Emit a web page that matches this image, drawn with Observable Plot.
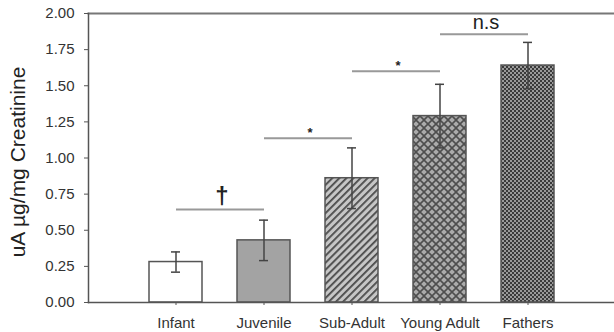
<!DOCTYPE html>
<html>
<head>
<meta charset="utf-8">
<script src="https://cdn.jsdelivr.net/npm/d3@7"></script>
<script src="https://cdn.jsdelivr.net/npm/@observablehq/plot@0.6"></script>
<style>
  html, body { margin: 0; padding: 0; background: #fff; }
  svg { display: block; }
</style>
</head>
<body>
<div id="chart"></div>
<script>
// ---- data ----
const categories = ["Infant", "Juvenile", "Sub-Adult", "Young Adult", "Fathers"];
const means = [0.28, 0.43, 0.86, 1.29, 1.64];
const errors = [0.07, 0.14, 0.21, 0.22, 0.16];
const fills = ["white", "#a3a3a3", "url(#diag)", "url(#cross)", "url(#check)"];
const yTicks = [0, 0.25, 0.5, 0.75, 1, 1.25, 1.5, 1.75, 2];

const sigFrom = ["Infant", "Juvenile", "Sub-Adult", "Young Adult"];
const sigTo = ["Juvenile", "Sub-Adult", "Young Adult", "Fathers"];
const sigLevel = [0.643, 1.137, 1.60, 1.857];
const sigLabel = ["†", "*", "*", "n.s"];

const bars = categories.map((c, i) => ({cat: c, mean: means[i], lo: means[i] - errors[i], hi: means[i] + errors[i]}));
const sigs = sigFrom.map((f, i) => ({from: f, to: sigTo[i], level: sigLevel[i], label: sigLabel[i]}));

const font = "'Liberation Sans', Arial, Helvetica, sans-serif";

const chart = Plot.plot({
  width: 614,
  height: 332,
  marginLeft: 88,
  marginRight: 0,
  marginTop: 13,
  marginBottom: 30,
  style: {fontFamily: font, background: "white", color: "#333"},
  x: {type: "band", domain: categories, paddingInner: 0.4, paddingOuter: 0.3, insetLeft: 34, insetRight: 33, label: null},
  y: {domain: [0, 2], label: null},
  color: {type: "ordinal", domain: categories, range: fills},
  marks: [
    Plot.frame({anchor: "top", stroke: "#777", strokeWidth: 2}),
    Plot.frame({anchor: "left", stroke: "#555", strokeWidth: 1.5}),
    Plot.barY(bars, {x: "cat", y: "mean", fill: "cat", stroke: "#555", strokeWidth: 1.5}),
    Plot.frame({anchor: "bottom", stroke: "#555", strokeWidth: 1.5}),
    Plot.ruleX(bars, {x: "cat", y1: "lo", y2: "hi", stroke: "#444", strokeWidth: 1.5}),
    Plot.tickY(bars, {x: "cat", y: "hi", stroke: "#444", strokeWidth: 1.5, insetLeft: 22, insetRight: 22}),
    Plot.tickY(bars, {x: "cat", y: "lo", stroke: "#444", strokeWidth: 1.5, insetLeft: 22, insetRight: 22}),
    Plot.link(sigs, {x1: "from", x2: "to", y1: "level", y2: "level", stroke: "#999", strokeWidth: 2}),
    Plot.text(sigs.filter(d => d.label === "†"), {x: "from", y: "level", text: "label", dx: 46, dy: -13, fontSize: 24, fontWeight: "bold", fill: "#222"}),
    Plot.text(sigs.filter(d => d.label === "*"), {x: "from", y: "level", text: "label", dx: 46, dy: -5, fontSize: 13, fontWeight: "bold", fill: "#222"}),
    Plot.text(sigs.filter(d => d.label === "n.s"), {x: "from", y: "level", text: "label", dx: 46, dy: -12, fontSize: 20, fill: "#222"}),
    Plot.axisY({ticks: yTicks, tickFormat: d3.format(".2f"), tickSize: 4, tickPadding: 10, fontSize: 15, stroke: "#555", label: null}),
    Plot.axisX({tickSize: 3, tickPadding: 12, fontSize: 15, stroke: "#555", label: null}),
    Plot.text(["uA µg/mg Creatinine"], {frameAnchor: "left", textAnchor: "middle", rotate: -90, dx: -70, dy: 4, fontSize: 21, fill: "#222"})
  ]
});

const defs = d3.select(chart).insert("defs", ":first-child");
const diag = defs.append("pattern").attr("id", "diag").attr("patternUnits", "userSpaceOnUse")
  .attr("width", 5).attr("height", 5).attr("patternTransform", "rotate(45)");
diag.append("rect").attr("width", 5).attr("height", 5).attr("fill", "#c6c6c6");
diag.append("rect").attr("width", 1.8).attr("height", 5).attr("fill", "#4a4a4a");

const cross = defs.append("pattern").attr("id", "cross").attr("patternUnits", "userSpaceOnUse")
  .attr("width", 8).attr("height", 8);
cross.append("rect").attr("width", 8).attr("height", 8).attr("fill", "#ababab");
cross.append("path").attr("d", "M0,0L8,8M8,0L0,8").attr("stroke", "#4e4e4e").attr("stroke-width", 1.6);

const check = defs.append("pattern").attr("id", "check").attr("patternUnits", "userSpaceOnUse")
  .attr("width", 4).attr("height", 4);
check.append("rect").attr("width", 4).attr("height", 4).attr("fill", "#9a9a9a");
check.append("rect").attr("width", 2).attr("height", 2).attr("fill", "#3a3a3a");
check.append("rect").attr("x", 2).attr("y", 2).attr("width", 2).attr("height", 2).attr("fill", "#3a3a3a");

document.getElementById("chart").appendChild(chart);
</script>
</body>
</html>
